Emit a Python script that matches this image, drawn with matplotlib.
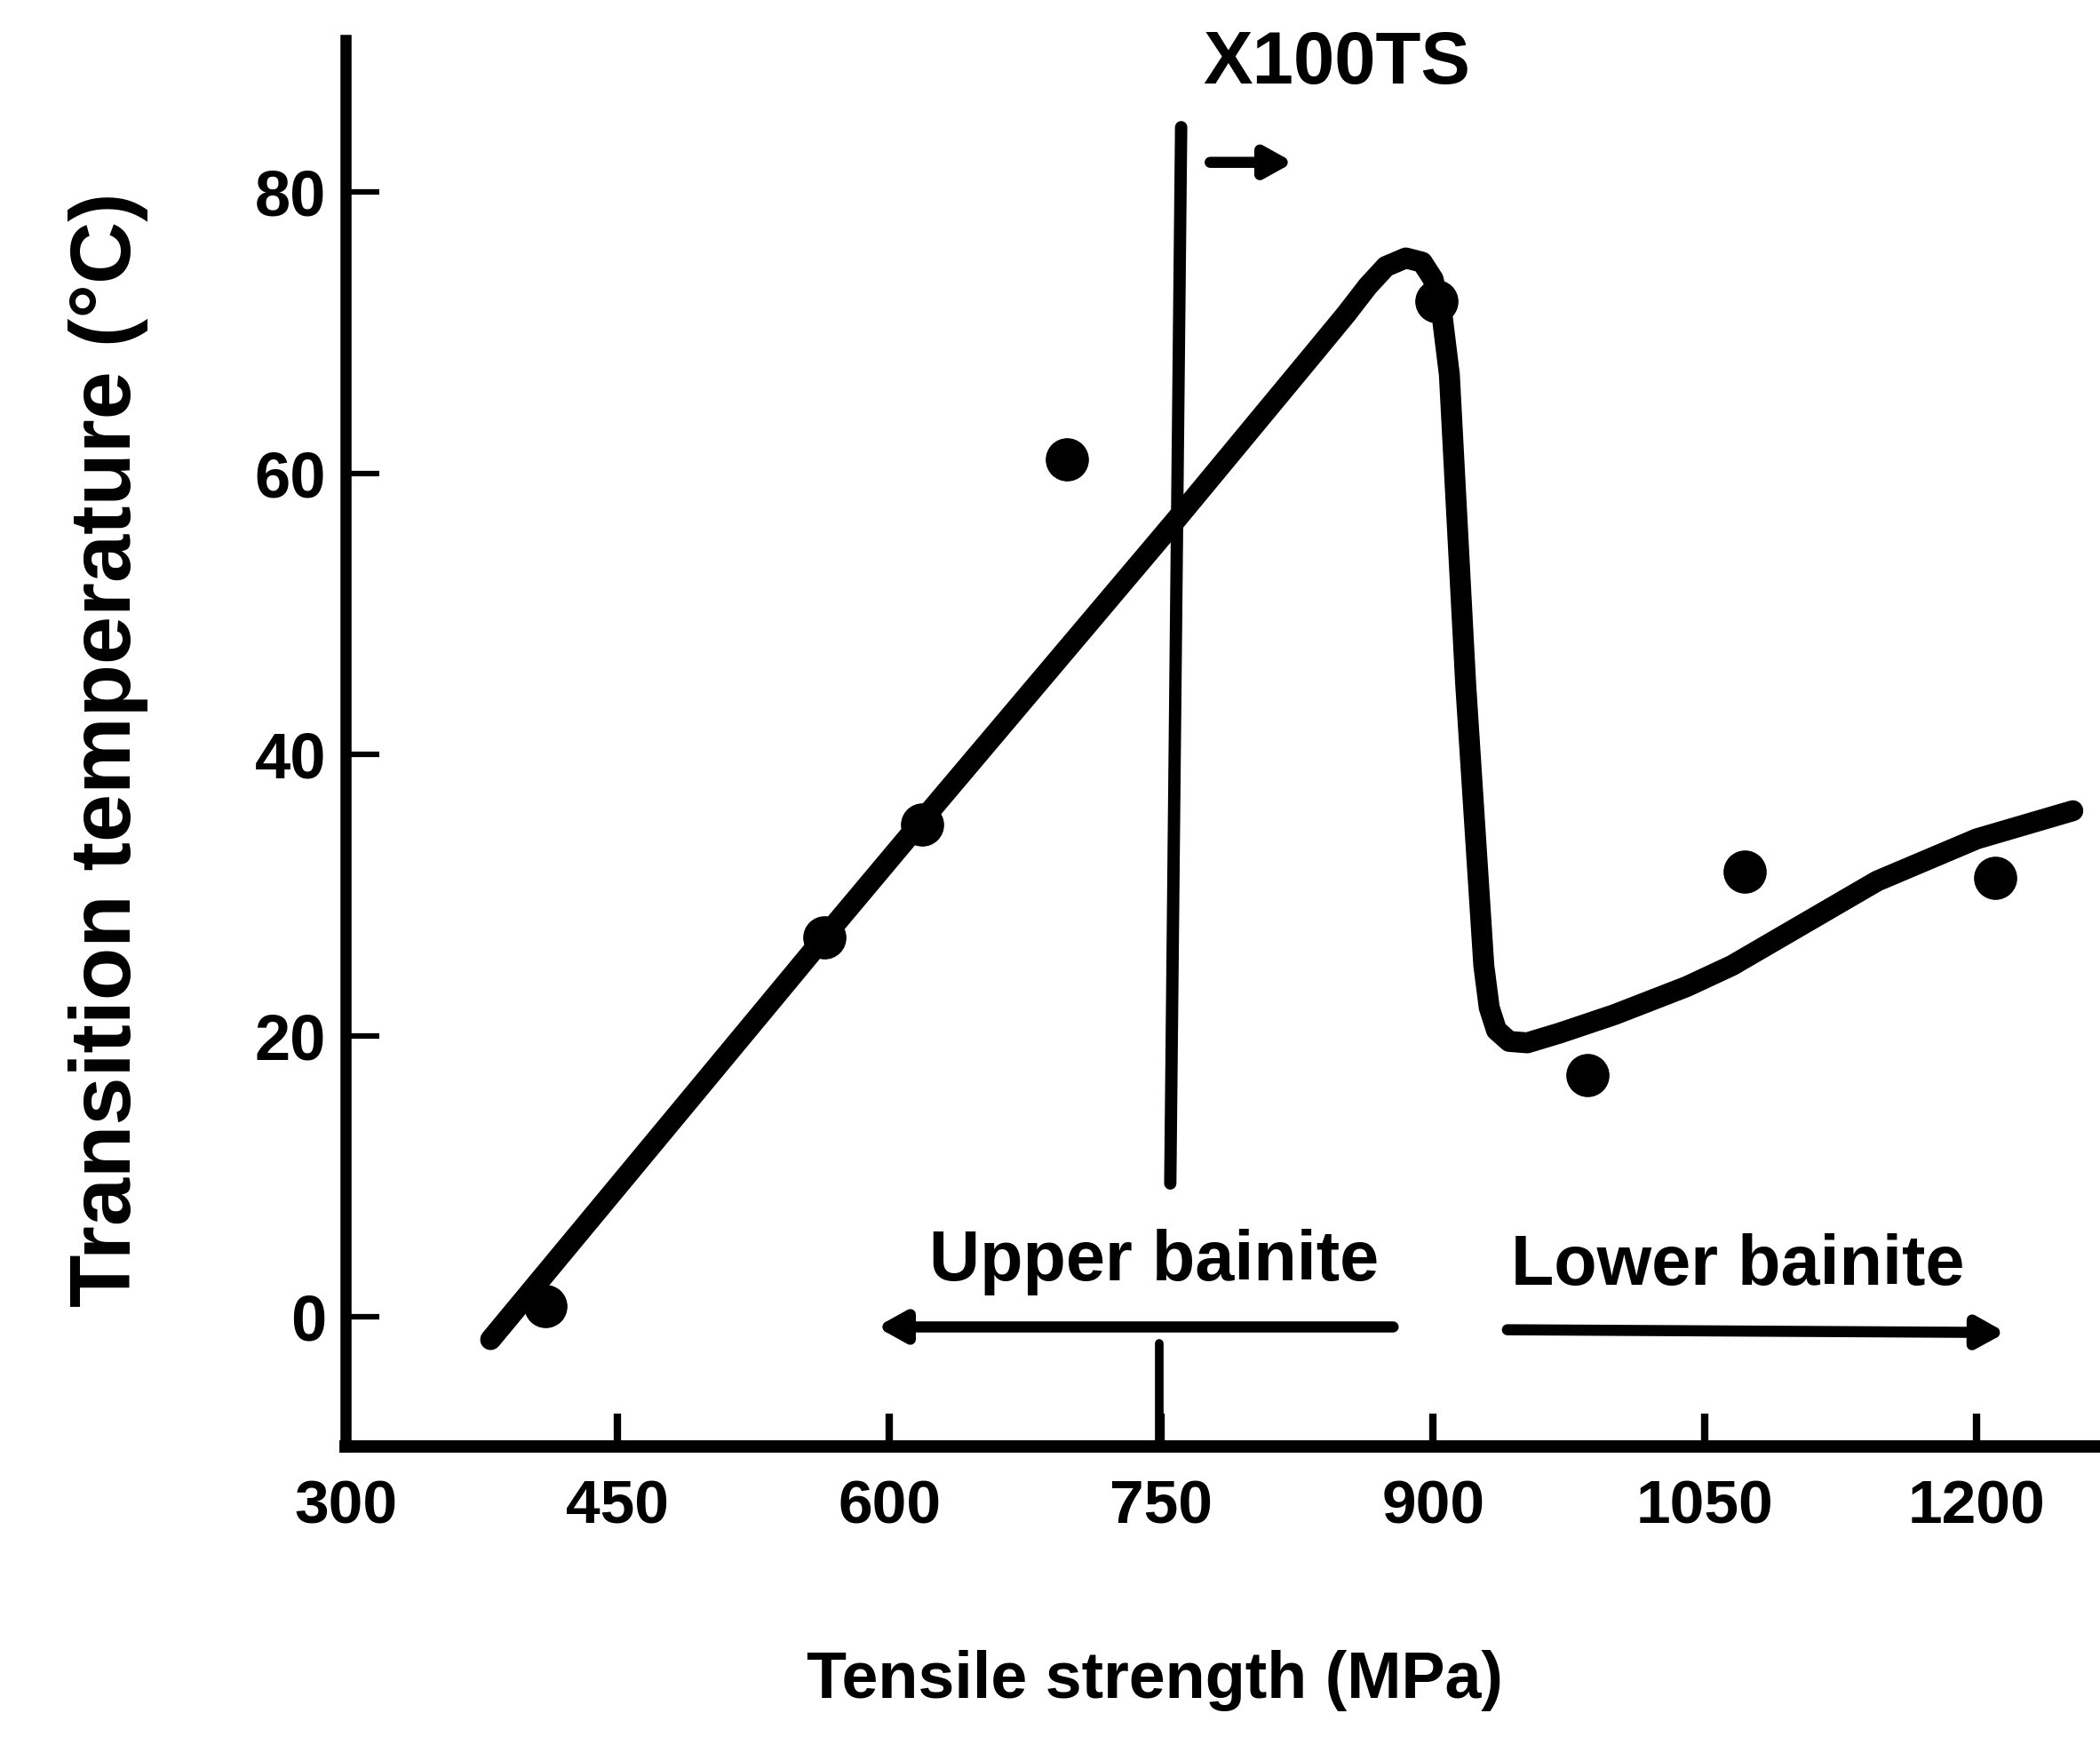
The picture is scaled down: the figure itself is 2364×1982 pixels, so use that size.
import numpy as np
import matplotlib
matplotlib.use('Agg')
import matplotlib.pyplot as plt

plt.rcParams['font.family'] = ['Liberation Sans', 'DejaVu Sans']
plt.rcParams['font.weight'] = 'bold'

# measured points
ts_pts = [410, 564, 618, 698, 902, 985, 1072, 1210]
tt_pts = [0.8, 27.0, 35.0, 61.0, 72.2, 17.2, 31.7, 31.2]

# hand drawn trend curve
ts_fit = [380, 564, 618, 757, 836, 852, 864, 874, 885, 894, 900, 905, 909, 918, 928, 931, 935, 942, 952,
          970, 1000, 1040, 1065, 1105, 1145, 1200, 1253]
tt_fit = [-1.6, 27.0, 35.3, 56.5, 68.8, 71.3, 73.3, 74.7, 75.3, 75.0, 73.8, 71.2, 67.0, 45.0, 25.0, 22.0, 20.4, 19.6, 19.5,
          20.2, 21.5, 23.5, 25.0, 28.0, 31.0, 34.0, 36.0]

# X100TS boundary line
x100_x = [761, 755]
x100_y = [84.6, 9.5]

xticks = [300, 450, 600, 750, 900, 1050, 1200]
yticks = [0, 20, 40, 60, 80]

fig = plt.figure(figsize=(23.64, 19.82), dpi=100)
ax = fig.add_axes([0.1646, 0.1786, 0.8354, 0.7987])

ax.plot(ts_fit, tt_fit, color='black', lw=17, solid_capstyle='round', solid_joinstyle='round')
ax.plot(ts_pts, tt_pts, 'o', color='black', ms=34)

ax.plot(x100_x, x100_y, color='black', lw=10, solid_capstyle='round')
ax.plot([749, 749], [-1.9, -9.2], color='black', lw=7, solid_capstyle='round')

ax.text(847, 89.1, 'X100TS', ha='center', va='center', fontsize=60, fontweight='bold')
ax.annotate('', xy=(823, 82.1), xytext=(777, 82.1),
            arrowprops=dict(arrowstyle='-|>,head_length=0.45,head_width=0.25', lw=9, color='black',
                            mutation_scale=40, shrinkA=0, shrinkB=0))

ax.text(746, 3.9, 'Upper bainite', ha='center', va='center', fontsize=57, fontweight='bold')
ax.text(1068, 3.6, 'Lower bainite', ha='center', va='center', fontsize=57, fontweight='bold')
ax.annotate('', xy=(593, -0.7), xytext=(878, -0.7),
            arrowprops=dict(arrowstyle='-|>,head_length=0.45,head_width=0.25', lw=9, color='black',
                            mutation_scale=40, shrinkA=0, shrinkB=0))
ax.annotate('', xy=(1216, -1.1), xytext=(941, -0.9),
            arrowprops=dict(arrowstyle='-|>,head_length=0.45,head_width=0.25', lw=9, color='black',
                            mutation_scale=40, shrinkA=0, shrinkB=0))

ax.set_xlim(300, 1268)
ax.set_ylim(-9.2, 90.8)
ax.set_xticks(xticks)
ax.set_yticks(yticks)
ax.tick_params(axis='x', direction='in', length=27, width=6, pad=26, labelsize=50)
ax.tick_params(axis='y', direction='in', length=27, width=4.5, pad=16, labelsize=52)
for t in ax.get_xticklabels() + ax.get_yticklabels():
    t.set_fontweight('bold')

ax.spines['top'].set_visible(False)
ax.spines['right'].set_visible(False)
ax.spines['left'].set_linewidth(9)
ax.spines['bottom'].set_linewidth(10)
ax.spines['left'].set_capstyle('projecting')

fig.text(1300 / 2364, 1 - 1892 / 1982, 'Tensile strength (MPa)', ha='center', va='center',
         fontsize=53, fontweight='bold')
fig.text(122 / 2364, 1 - 844 / 1982, 'Transition temperature (°C)', ha='center', va='center',
         rotation=90, fontsize=70, fontweight='bold')

fig.savefig('out.png', dpi=100)
